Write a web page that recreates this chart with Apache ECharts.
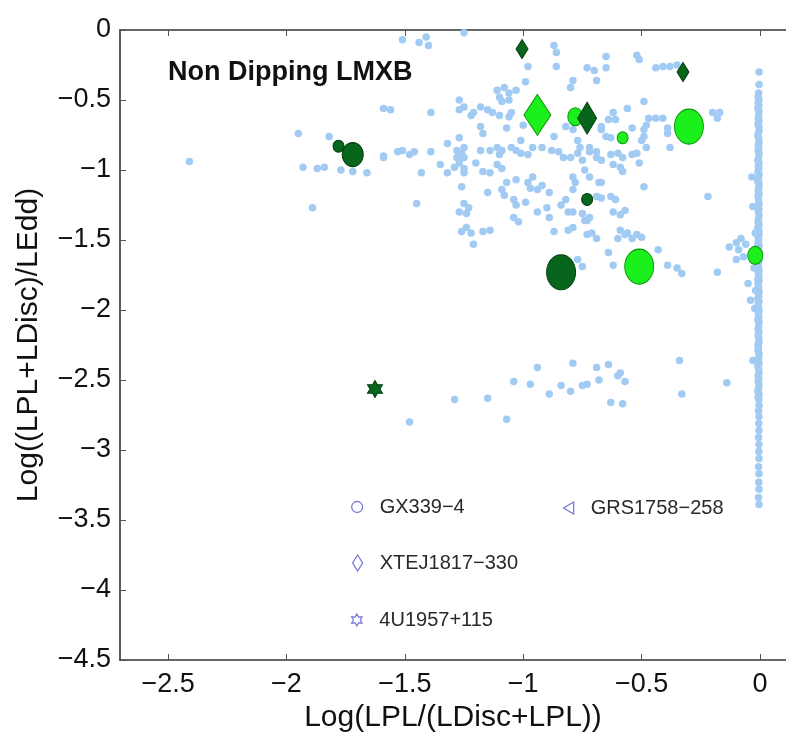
<!DOCTYPE html>
<html>
<head>
<meta charset="utf-8">
<title>Non Dipping LMXB</title>
<script src="https://cdn.jsdelivr.net/npm/echarts@6/dist/echarts.min.js"></script>
<style>
  html, body { margin: 0; padding: 0; background: #fff; }
  #chart { width: 786px; height: 739px; }
</style>
</head>
<body>
<div id="chart"></div>
<script>
// ---- data -------------------------------------------------------------
// x: Log(LPL/(LDisc+LPL)), y: Log((LPL+LDisc)/LEdd)

const xTicks = [-2.5, -2, -1.5, -1, -0.5, 0];
const yTicks = [0, -0.5, -1, -1.5, -2, -2.5, -3, -3.5, -4, -4.5];

// non-dipping LMXB sample (background cloud)
const lmxbCloud = [
  [-2.41,-0.94],[-1.95,-0.74],[-1.82,-0.76],[-1.93,-0.98],[-1.87,-0.99],[-1.84,-0.98],
  [-1.77,-1.00],[-1.72,-1.01],[-1.66,-1.02],[-1.59,-0.90],[-1.53,-0.87],[-1.59,-0.56],
  [-1.56,-0.57],[-1.89,-1.27],
  [-1.51,-0.07],[-1.44,-0.09],[-1.41,-0.05],[-1.40,-0.11],[-1.25,-0.02],
  [-0.87,-0.11],[-0.86,-0.16],[-0.86,-0.26],[-0.98,-0.26],[-0.99,-0.37],[-0.79,-0.36],
  [-0.80,-0.41],[-0.73,-0.27],[-0.70,-0.29],[-0.69,-0.36],[-0.65,-0.27],[-0.65,-0.19],
  [-0.52,-0.18],[-0.51,-0.21],[-0.44,-0.27],[-0.41,-0.26],[-0.38,-0.26],[-0.35,-0.25],
  [-0.49,-0.51],[-0.56,-0.56],[-0.62,-0.59],
  [-1.11,-0.43],[-1.08,-0.41],[-1.06,-0.45],[-1.10,-0.48],[-1.03,-0.43],[-1.06,-0.50],
  [-1.09,-0.51],[-1.27,-0.50],[-1.25,-0.55],[-1.27,-0.57],[-1.22,-0.61],[-1.21,-0.59],
  [-1.18,-0.55],[-1.15,-0.57],[-1.13,-0.59],[-1.10,-0.61],[-1.06,-0.62],[-1.05,-0.59],
  [-1.39,-0.59],[-1.18,-0.69],[-1.17,-0.74],[-1.07,-0.70],[-1.00,-0.68],[-0.87,-0.76],
  [-0.82,-0.69],[-1.01,-0.79],[-1.27,-0.77],[-1.25,-0.84],[-1.32,-0.81],[-0.92,-0.84],
  [-0.85,-0.87],[-0.83,-0.91],[-1.51,-0.86],[-1.48,-0.89],[-1.39,-0.87],[-1.18,-0.86],
  [-1.14,-0.86],[-1.11,-0.84],[-1.09,-0.86],[-1.05,-0.84],[-1.03,-0.86],[-0.98,-0.89],
  [-0.96,-0.84],[-0.88,-0.86],[-1.28,-0.86],[-1.26,-0.89],
  [-1.59,-0.91],[-1.46,-0.87],[-1.28,-0.91],[-1.26,-0.88],[-1.25,-0.91],[-1.27,-0.95],
  [-1.29,-0.98],[-1.25,-0.99],[-1.25,-1.02],[-1.20,-0.95],[-1.35,-0.96],[-1.32,-1.02],
  [-1.43,-1.02],[-1.17,-1.01],[-1.14,-1.02],[-1.11,-0.96],[-1.09,-0.99],[-1.10,-0.89],
  [-1.01,-0.88],[-0.80,-0.91],[-1.26,-1.12],[-1.07,-1.09],[-1.03,-1.07],[-0.98,-1.09],
  [-0.96,-1.05],[-0.97,-1.13],[-0.94,-1.14],[-0.92,-1.11],[-0.89,-1.16],[-0.79,-1.05],
  [-0.78,-1.09],[-0.79,-1.14],[-1.15,-1.16],[-1.09,-1.14],[-1.08,-1.18],[-1.45,-1.24],
  [-1.25,-1.24],[-1.23,-1.27],[-1.27,-1.30],[-1.24,-1.31],[-1.04,-1.21],[-1.03,-1.25],
  [-0.99,-1.23],[-0.94,-1.30],[-0.90,-1.27],[-0.89,-1.34],[-0.84,-1.25],[-0.82,-1.21],
  [-0.81,-1.30],[-0.79,-1.30],[-0.75,-1.31],[-1.04,-1.34],[-1.02,-1.37],[-1.26,-1.44],
  [-1.24,-1.41],[-1.22,-1.45],[-1.17,-1.44],[-1.14,-1.43],[-0.87,-1.44],[-1.21,-1.53],
  [-0.81,-1.43],[-0.79,-1.41],[-0.73,-1.36],
  [-0.47,-0.63],[-0.44,-0.63],[-0.41,-0.63],[-0.48,-0.68],[-0.49,-0.71],[-0.39,-0.70],
  [-0.39,-0.74],[-0.20,-0.59],[-0.17,-0.59],[-0.18,-0.63],[-0.64,-0.64],[-0.61,-0.64],
  [-0.67,-0.69],[-0.67,-0.71],[-0.65,-0.76],[-0.54,-0.70],[-0.63,-0.77],[-0.50,-0.79],
  [-0.49,-0.76],[-0.38,-0.84],[-0.48,-0.84],[-0.79,-0.71],[-0.77,-0.79],[-0.76,-0.84],
  [-0.72,-0.84],[-0.69,-0.87],[-0.60,-0.88],[-0.58,-0.91],[-0.54,-0.89],[-0.77,-0.88],
  [-0.75,-0.93],[-0.72,-0.87],[-0.69,-0.91],[-0.67,-0.93],[-0.63,-0.89],[-0.52,-0.88],
  [-0.51,-0.95],[-0.62,-0.96],[-0.59,-0.98],[-0.58,-1.01],[-0.74,-1.00],[-0.72,-1.05],
  [-0.67,-1.09],[-0.68,-1.09],[-0.49,-1.12],[-0.69,-1.19],[-0.67,-1.20],[-0.63,-1.19],
  [-0.61,-1.21],[-0.22,-1.19],[-0.74,-1.36],[-0.72,-1.34],[-0.73,-1.46],[-0.69,-1.49],
  [-0.71,-1.45],[-0.59,-1.43],[-0.57,-1.46],[-0.56,-1.45],[-0.54,-1.49],[-0.60,-1.49],
  [-0.52,-1.46],[-0.50,-1.48],[-0.62,-1.30],[-0.59,-1.32],[-0.57,-1.29],[-0.64,-1.59],
  [-0.43,-1.57],[-0.62,-1.68],[-0.39,-1.68],[-0.35,-1.70],[-0.33,-1.74],[-0.18,-1.73],
  [-0.13,-1.55],[-0.10,-1.52],[-0.08,-1.49],[-0.06,-1.53],[-0.09,-1.57],[-0.07,-1.62],
  [-0.10,-1.64],[-0.77,-1.64],[-0.75,-1.69],[-0.05,-1.81],[-0.04,-1.93],
  [-0.94,-2.41],[-0.79,-2.38],[-0.69,-2.41],[-0.64,-2.39],[-1.04,-2.51],[-0.97,-2.53],
  [-0.84,-2.54],[-0.80,-2.58],[-0.75,-2.54],[-0.73,-2.53],[-0.68,-2.50],[-0.60,-2.47],
  [-0.59,-2.45],[-0.57,-2.51],[-0.89,-2.60],[-1.29,-2.64],[-1.15,-2.63],[-0.63,-2.66],
  [-0.58,-2.67],[-1.07,-2.78],[-1.48,-2.80],[-0.34,-2.36],[-0.33,-2.60],[-0.14,-2.52],
  [-0.03,-2.36],
  // disc-dominated sources piling up near x = 0
  [-0.004,-0.30],[-0.004,-0.39],[-0.006,-0.45],[-0.004,-0.50],[-0.005,-0.54],[-0.004,-0.58],
  [-0.006,-0.61],[-0.004,-0.65],[-0.005,-0.69],[-0.004,-0.72],[-0.006,-0.77],[-0.004,-0.80],
  [-0.005,-0.84],[-0.004,-0.88],[-0.006,-0.91],[-0.004,-0.95],[-0.005,-0.99],[-0.004,-1.03],
  [-0.006,-1.06],[-0.004,-1.10],[-0.005,-1.13],[-0.004,-1.17],[-0.006,-1.21],[-0.004,-1.24],
  [-0.005,-1.28],[-0.004,-1.32],[-0.006,-1.35],[-0.004,-1.39],[-0.005,-1.43],[-0.004,-1.46],
  [-0.006,-1.50],[-0.004,-1.54],[-0.005,-1.57],[-0.004,-1.65],[-0.006,-1.69],[-0.004,-1.72],
  [-0.005,-1.76],[-0.004,-1.79],[-0.006,-1.83],[-0.004,-1.87],[-0.005,-1.90],[-0.004,-1.94],
  [-0.006,-1.98],[-0.004,-2.01],[-0.005,-2.05],[-0.004,-2.09],[-0.006,-2.12],[-0.004,-2.16],
  [-0.005,-2.20],[-0.004,-2.23],[-0.006,-2.27],[-0.004,-2.31],[-0.005,-2.34],[-0.004,-2.38],
  [-0.006,-2.42],[-0.004,-2.45],[-0.005,-2.49],[-0.004,-2.53],[-0.006,-2.56],[-0.004,-2.60],
  [-0.005,-2.64],[-0.004,-2.68],[-0.006,-2.72],[-0.004,-2.76],[-0.005,-2.81],[-0.004,-2.86],
  [-0.006,-2.91],[-0.004,-2.96],[-0.005,-3.01],[-0.004,-3.06],[-0.006,-3.12],[-0.004,-3.17],
  [-0.005,-3.23],[-0.004,-3.28],[-0.006,-3.34],[-0.004,-3.39],
  [-0.008,-0.48],[-0.007,-0.52],[-0.009,-0.56],[-0.007,-0.63],[-0.008,-0.67],[-0.009,-0.75],
  [-0.007,-0.82],[-0.008,-0.86],[-0.009,-0.93],[-0.007,-0.97],[-0.008,-1.01],[-0.009,-1.08],
  [-0.007,-1.15],[-0.008,-1.19],[-0.009,-1.26],[-0.007,-1.30],[-0.008,-1.37],[-0.009,-1.41],
  [-0.007,-1.48],[-0.008,-1.52],[-0.010,-1.55],[-0.012,-1.59],[-0.009,-1.63],[-0.008,-1.67],
  [-0.007,-1.74],[-0.009,-1.78],[-0.008,-1.81],[-0.007,-1.85],[-0.009,-1.92],[-0.008,-1.96],
  [-0.007,-2.03],[-0.009,-2.07],[-0.008,-2.14],[-0.007,-2.18],[-0.009,-2.25],[-0.008,-2.29],
  [-0.007,-2.36],[-0.009,-2.40],[-0.008,-2.47],[-0.007,-2.51],[-0.009,-2.58],[-0.008,-2.62],
  [-0.034,-1.05],[-0.030,-1.26],[-0.020,-1.45],[-0.025,-1.70],[-0.018,-1.86],[-0.022,-1.99]
];

// GX 339-4
const gxLogRatio = [-1.78, -1.72, -0.84, -0.51, -0.02, -0.78, -0.58, -0.30, -0.73];
const gxLogLum   = [-0.83, -0.89, -1.73, -1.69, -1.61, -0.62, -0.77, -0.69, -1.21];
const gxState    = ['hard','hard','hard','soft','soft','soft','soft','soft','hard'];
const gxWeight   = [1, 3, 4, 4, 2, 2, 1, 4, 1];

// XTE J1817-330
const xteLogRatio = [-1.005, -0.94, -0.73, -0.325];
const xteLogLum   = [-0.136, -0.607, -0.63, -0.30];
const xteState    = ['hard','soft','hard','hard'];
const xteWeight   = [1, 4, 3, 1];

// 4U 1957+115
const u4LogRatio = [-1.626];
const u4LogLum   = [-2.564];
const u4State    = ['hard'];

// GRS 1758-258 (no epochs in this panel)
const grsLogRatio = [];
const grsLogLum   = [];

const sourceNames = ['GX339\u22124', 'XTEJ1817\u2212330', '4U1957+115', 'GRS1758\u2212258'];

// ---- styling ----------------------------------------------------------
const FONT = '"Liberation Sans", Arial, Helvetica, sans-serif';
const stateStyle = {
  hard: { color: '#07661c', borderColor: '#033d0c', borderWidth: 1, opacity: 1 },
  soft: { color: '#1cf01c', borderColor: '#0c960c', borderWidth: 1, opacity: 1 }
};
const circleSize  = { 1: [11, 12], 2: [15, 18], 3: [21, 24], 4: [29, 35] };
const diamondSize = { 1: [12, 19], 3: [19, 32], 4: [27, 41] };

const HEXAGRAM = 'path://M10,0L12.89,5L18.66,5L15.77,10L18.66,15L12.89,15L10,20L7.11,15L1.34,15L4.23,10L1.34,5L7.11,5Z';
const TRI_LEFT = 'path://M10,0L0,6L10,12Z';
const LEGEND_EDGE = '#7c7cd8';

function buildPoints(xs, ys, states, weights, sizeTable, fixedSize) {
  return xs.map((x, i) => ({
    value: [x, ys[i]],
    symbolSize: sizeTable ? sizeTable[weights[i]] : fixedSize,
    itemStyle: stateStyle[states[i]]
  }));
}

const fmtTick = v => (v < 0 ? '\u2212' + String(-v) : String(v));

const xMin = -2.703, xMax = 0.11;

function legendBlock(name, icon, left, top, w, h) {
  return {
    selectedMode: false,
    orient: 'horizontal',
    left: left, top: top,
    padding: 0,
    itemWidth: w, itemHeight: h,
    textStyle: { fontFamily: FONT, fontSize: 20, color: '#2a2a2a', padding: [0, 0, 0, 12] },
    data: [{ name: name, icon: icon,
             itemStyle: { color: 'rgba(255,255,255,0)', borderColor: LEGEND_EDGE, borderWidth: 1.3 } }]
  };
}

const chart = echarts.init(document.getElementById('chart'), null, { renderer: 'canvas' });

chart.setOption({
  backgroundColor: '#ffffff',
  animation: false,
  title: {
    text: 'Non Dipping LMXB',
    left: 168, top: 59, padding: 0,
    textStyle: { fontFamily: FONT, fontSize: 27, fontWeight: 'bold', color: '#111' }
  },
  legend: [
    legendBlock(sourceNames[0], 'circle',  351, 497, 11, 12),
    legendBlock(sourceNames[1], 'diamond', 352, 553, 10, 16),
    legendBlock(sourceNames[2], HEXAGRAM,  351, 610, 11, 12),
    legendBlock(sourceNames[3], TRI_LEFT,  563, 498, 10, 12)
  ],
  grid: { left: 120, right: 0, top: 30, bottom: 79, containLabel: false },
  xAxis: [
    {
      type: 'value', position: 'bottom', min: xMin, max: xMax,
      name: 'Log(LPL/(LDisc+LPL))', nameLocation: 'middle', nameGap: 40,
      nameTextStyle: { fontFamily: FONT, fontSize: 30, color: '#111' },
      axisLine: { show: true, onZero: false, lineStyle: { color: '#333', width: 1.6 } },
      axisTick: { show: true, inside: true, length: 6, customValues: xTicks,
                  lineStyle: { color: '#555', width: 1 } },
      axisLabel: { customValues: xTicks, formatter: fmtTick, margin: 11,
                   fontFamily: FONT, fontSize: 27, color: '#111' },
      splitLine: { show: false }
    },
    {
      type: 'value', position: 'top', min: xMin, max: xMax,
      axisLine: { show: true, onZero: false, lineStyle: { color: '#333', width: 1.6 } },
      axisTick: { show: true, inside: true, length: 6, customValues: xTicks,
                  lineStyle: { color: '#555', width: 1 } },
      axisLabel: { show: false },
      splitLine: { show: false }
    }
  ],
  yAxis: {
    type: 'value', min: -4.5, max: 0, interval: 0.5,
    name: 'Log((LPL+LDisc)/LEdd)', nameLocation: 'middle', nameGap: 76,
    nameTextStyle: { fontFamily: FONT, fontSize: 30, color: '#111' },
    axisLine: { show: true, onZero: false, lineStyle: { color: '#333', width: 1.6 } },
    axisTick: { show: true, inside: true, length: 6, lineStyle: { color: '#555', width: 1 } },
    axisLabel: { formatter: fmtTick, margin: 9, showMinLabel: true, showMaxLabel: true,
                 fontFamily: FONT, fontSize: 27, color: '#111' },
    splitLine: { show: false }
  },
  series: [
    {
      name: 'Non dipping LMXB', type: 'scatter', xAxisIndex: 0,
      data: lmxbCloud, symbol: 'circle', symbolSize: 7.5,
      itemStyle: { color: '#a2cbf4', opacity: 1 }, z: 1
    },
    {
      name: sourceNames[0], type: 'scatter', xAxisIndex: 0, symbol: 'circle',
      data: buildPoints(gxLogRatio, gxLogLum, gxState, gxWeight, circleSize),
      itemStyle: { color: stateStyle.soft.color, opacity: 1 }, z: 3
    },
    {
      name: sourceNames[1], type: 'scatter', xAxisIndex: 0, symbol: 'diamond',
      data: buildPoints(xteLogRatio, xteLogLum, xteState, xteWeight, diamondSize),
      itemStyle: { color: stateStyle.soft.color, opacity: 1 }, z: 4
    },
    {
      name: sourceNames[2], type: 'scatter', xAxisIndex: 0, symbol: HEXAGRAM,
      data: buildPoints(u4LogRatio, u4LogLum, u4State, null, null, [15, 17]),
      itemStyle: { color: stateStyle.hard.color, opacity: 1 }, z: 4
    },
    {
      name: sourceNames[3], type: 'scatter', xAxisIndex: 0, symbol: TRI_LEFT,
      data: grsLogRatio.map((x, i) => [x, grsLogLum[i]]),
      symbolSize: 12, itemStyle: { color: stateStyle.hard.color, opacity: 1 }, z: 4
    }
  ]
});
</script>
</body>
</html>
